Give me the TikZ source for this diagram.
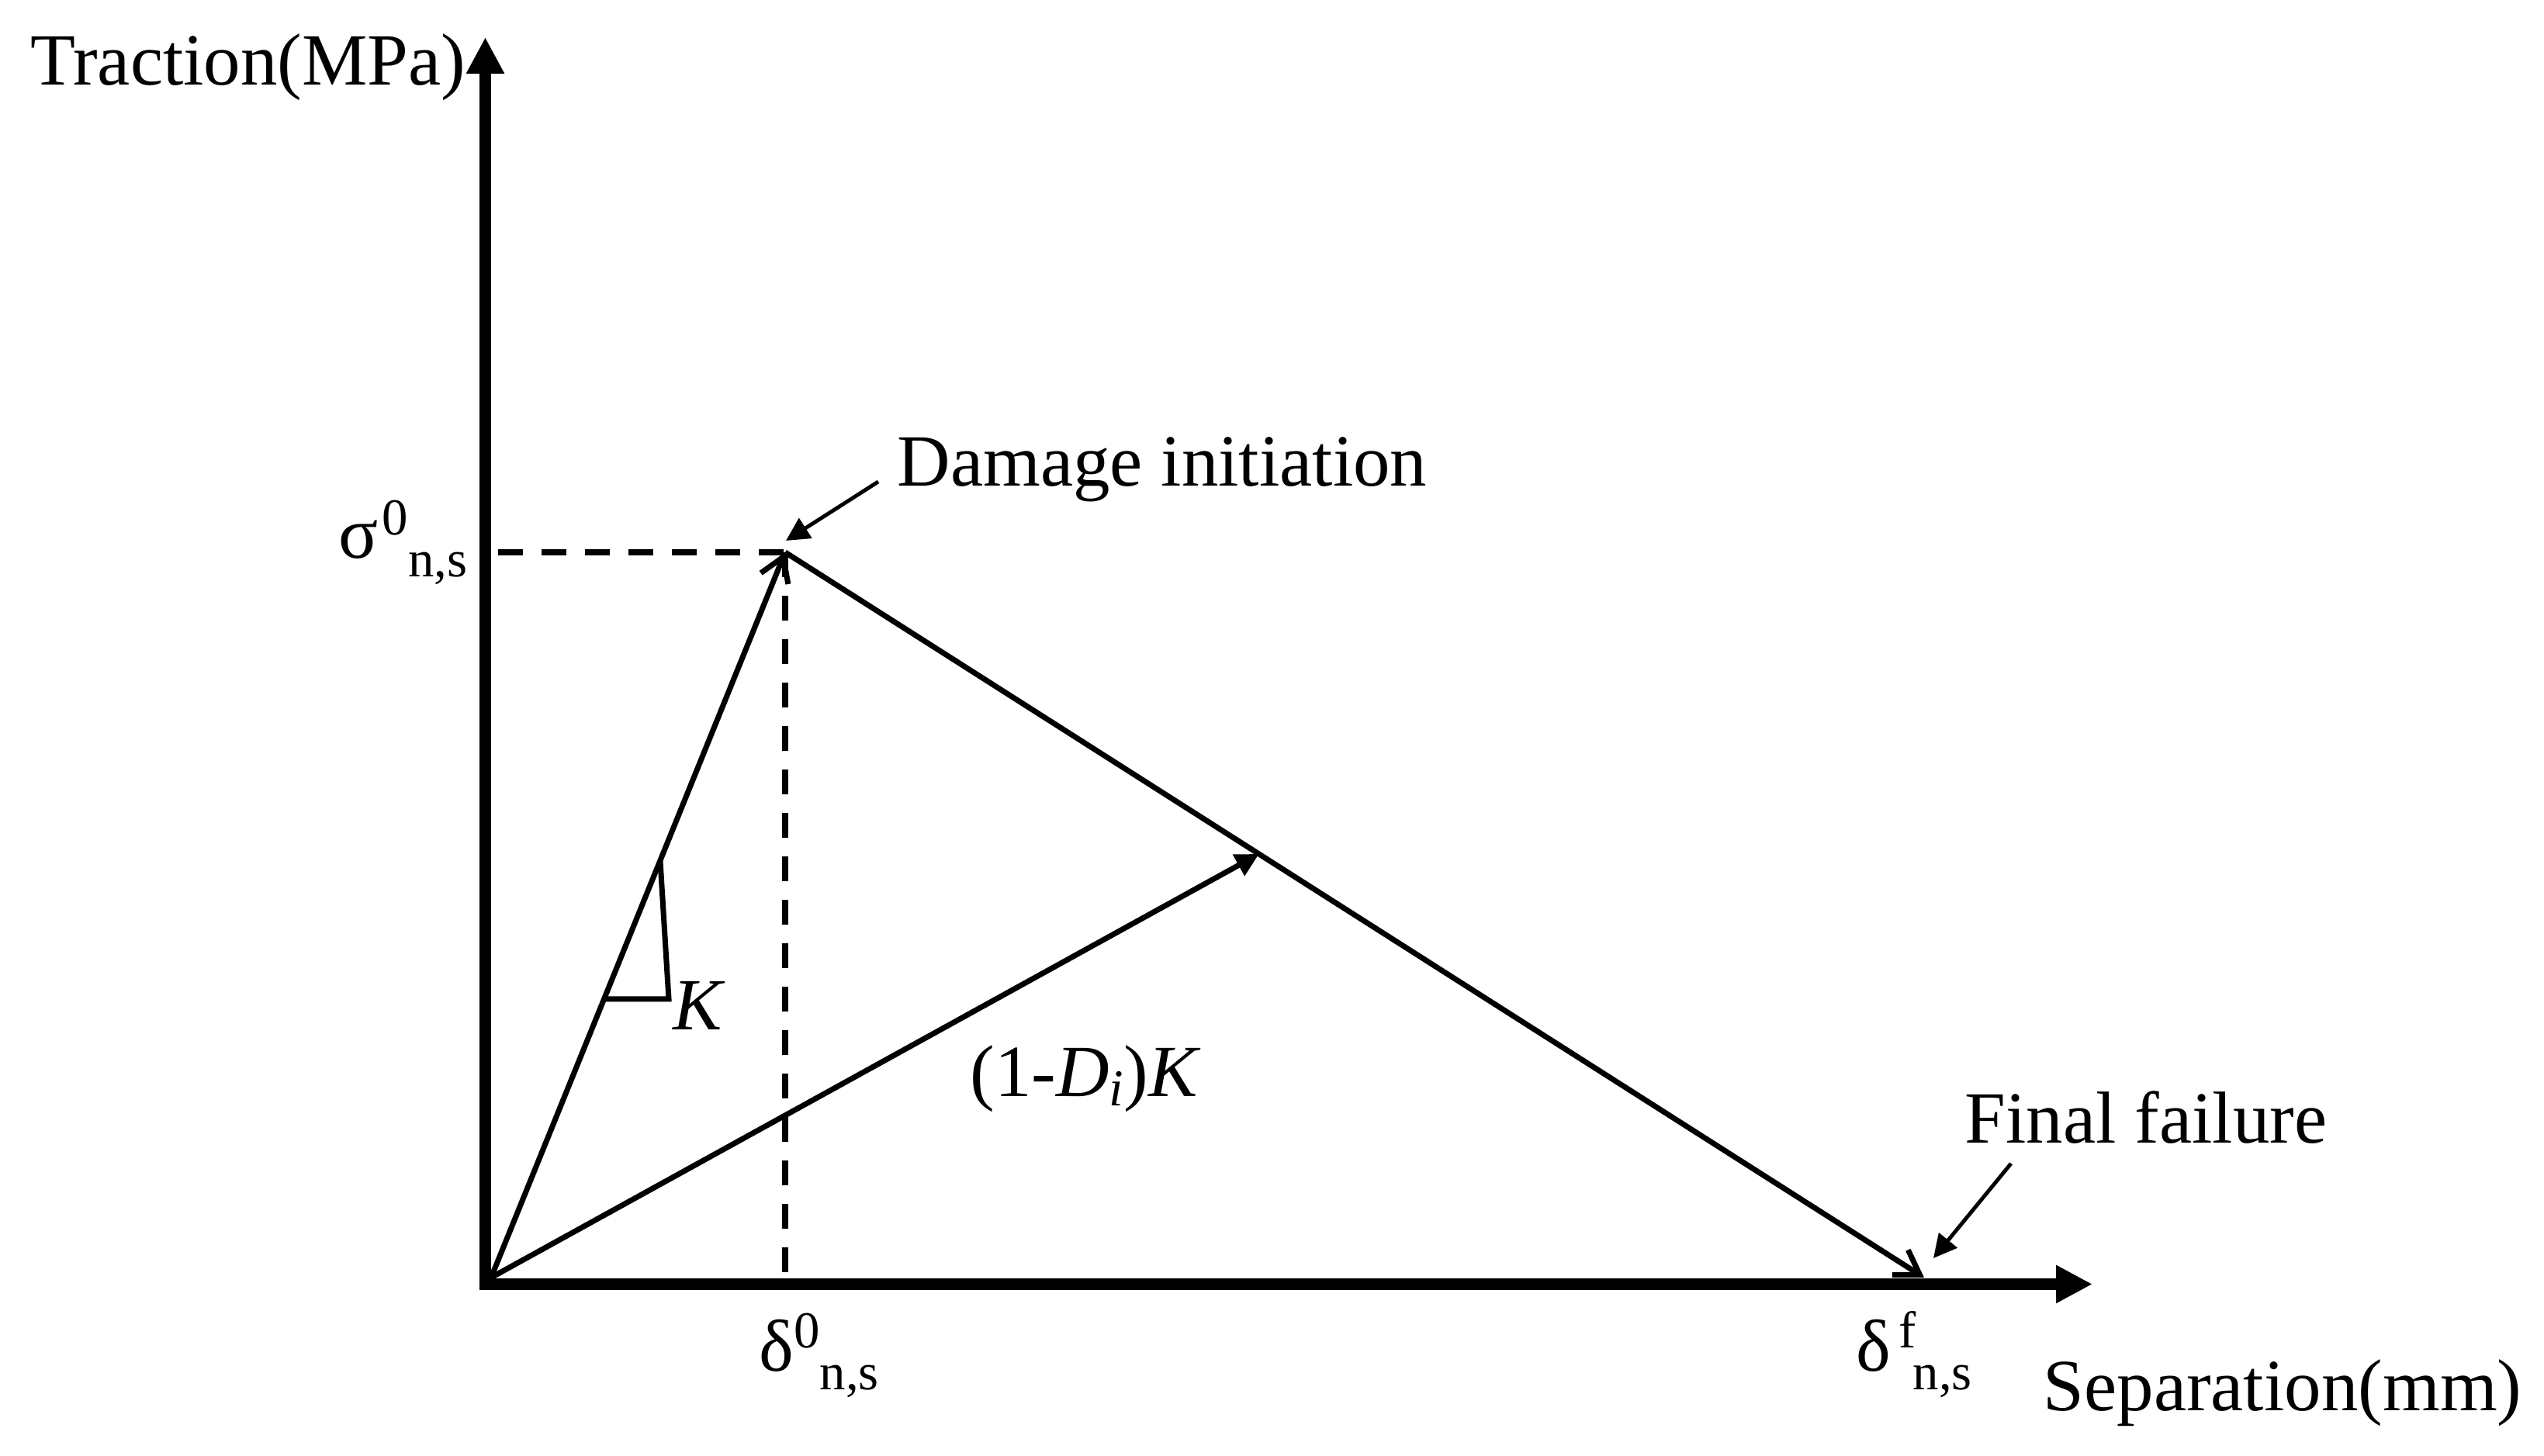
\documentclass[tikz,border=0pt]{standalone}
\usepackage{fontspec}
\setmainfont{Liberation Serif}
\usetikzlibrary{arrows.meta,calc}
\newcommand{\mainsz}{\fontsize{27}{30}\selectfont}
\newcommand{\scrsz}{\fontsize{19}{22}\selectfont}
\newcommand{\symlab}[4]{#1\kern#4\raisebox{0.30cm}{\scrsz #2}\raisebox{-0.24cm}{\scrsz #3}}
\begin{document}
\begin{tikzpicture}[
  axis/.style={line width=4.3pt, line join=miter, {Triangle[length=0.47cm,width=0.46cm]}-{Triangle[length=0.47cm,width=0.46cm]}},
  curve/.style={line width=2pt, -{Straight Barb[length=0.3cm,width=0.38cm,line width=2pt]}},
  slope/.style={line width=2pt, -{Triangle[length=0.3cm,width=0.3cm]}},
  dashline/.style={line width=2.3pt, dash pattern=on 0.32cm off 0.24cm},
  note/.style={line width=1.4pt, -{Triangle[length=0.3cm,width=0.3cm]}},
  tri/.style={line width=2pt, line join=miter},
  lbl/.style={inner sep=0pt, anchor=base west, font=\mainsz},
]
\useasboundingbox (0,0) rectangle (32.79,18.77);
% key points
\coordinate (ytip) at (6.255,18.29);
\coordinate (corner) at (6.255,2.215);
\coordinate (xtip) at (26.97,2.215);
\coordinate (O) at (6.33,2.30);
\coordinate (P) at (10.12,11.65);
\coordinate (F) at (24.80,2.30);
\coordinate (Pleft) at (6.42,11.65);
\coordinate (Pdown) at (10.12,2.30);
\coordinate (Dk) at ($(P)!0.416!(F)$);
\coordinate (Ka) at (8.51,7.67);
\coordinate (Kb) at (8.62,5.89);
\coordinate (Kc) at (7.785,5.89);
\coordinate (dmgstart) at (11.32,12.56);
\coordinate (dmgtip) at (10.13,11.80);
\coordinate (ffstart) at (25.92,3.77);
\coordinate (fftip) at (24.92,2.55);
% axes
\draw[axis] (ytip) -- (corner) -- (xtip);
% dashed guides
\draw[dashline] (Pleft) -- (P);
\draw[dashline] (P) -- (Pdown);
% traction-separation law
\draw[curve] (O) -- (P);
\draw[curve] (P) -- (F);
\draw[slope] (O) -- (Dk);
% stiffness triangle
\draw[tri] (Ka) -- (Kb) -- (Kc);
% annotations
\draw[note] (dmgstart) -- (dmgtip);
\draw[note] (ffstart) -- (fftip);
% labels
\node[lbl] (ylab) at (0.39,17.67) {Traction(MPa)};
\node[lbl] (xlab) at (26.33,0.58) {Separation(mm)};
\node[lbl] (dmg) at (11.56,12.50) {Damage initiation};
\node[lbl] (ff) at (25.32,4.03) {Final failure};
\node[lbl] (klab) at (8.67,5.49) {\itshape K};
\node[lbl] (dklab) at (12.50,4.63) {(1-\textit{D\raisebox{-0.12cm}{\scrsz i}})\textit{K}};
\node[lbl] (sig) at (4.36,11.57) {\symlab{σ}{0}{n,s}{0.05cm}};
\node[lbl] (d0) at (9.78,1.09) {\symlab{δ}{0}{n,s}{0pt}};
\node[lbl] (df) at (23.92,1.09) {\symlab{δ}{f\kern-0.04cm}{n,s}{0.1cm}};
\end{tikzpicture}
\end{document}
